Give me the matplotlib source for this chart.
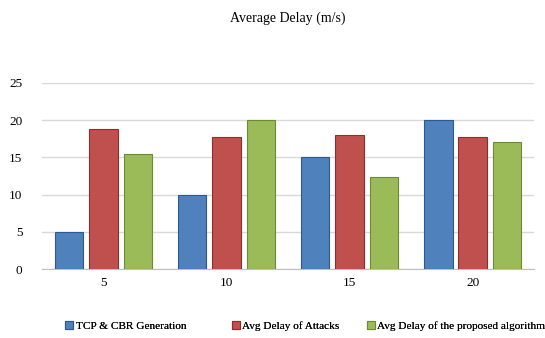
import matplotlib
matplotlib.use("Agg")
import matplotlib.pyplot as plt
import numpy as np

plt.rcParams["font.family"] = ["Liberation Serif", "DejaVu Serif"]

CATEGORIES = ["5", "10", "15", "20"]
TCP_CBR = [5.0, 10.0, 15.0, 20.0]
ATTACKS = [18.8, 17.7, 18.0, 17.7]
PROPOSED = [15.5, 20.0, 12.4, 17.0]
LABELS = ["TCP & CBR Generation", "Avg Delay of Attacks", "Avg Delay of the proposed algorithm"]
COLORS = ["#4f81bd", "#c0504d", "#9bbb59"]
EDGES = ["#2c5a8c", "#8c2f2c", "#6a8a34"]

fig = plt.figure(figsize=(5.45, 3.38), dpi=100)
ax = fig.add_axes([0.077, 0.204, 0.903, 0.551])

x = np.arange(len(CATEGORIES))
w = 0.23
step = 0.278
handles = []
for i, (vals, c, e, lab) in enumerate(zip([TCP_CBR, ATTACKS, PROPOSED], COLORS, EDGES, LABELS)):
    h = ax.bar(x + (i - 1) * step, vals, w, color=c, edgecolor=e, linewidth=0.8,
               label=lab, zorder=3)
    handles.append(h)

ax.set_xlim(-0.5, 3.5)
ax.set_ylim(0, 25)
ax.set_yticks([0, 5, 10, 15, 20, 25])
ax.set_xticks(x)
ax.set_xticklabels(CATEGORIES)
ax.yaxis.grid(True, color="#d9d9d9", linewidth=1.0, zorder=0)
for s in ["top", "right", "left"]:
    ax.spines[s].set_visible(False)
ax.spines["bottom"].set_color("#bfbfbf")
ax.tick_params(axis="both", length=0, labelsize=9.5, pad=6)
ax.tick_params(axis="y", pad=14)

fig.text(0.528, 0.945, "Average Delay (m/s)", ha="center", va="center", fontsize=10)

# one legend per entry so the uneven spacing of the original can be kept
for h, lab, xpos in zip(handles, LABELS, [0.12, 0.426, 0.674]):
    leg = fig.legend(handles=[h], labels=[lab], loc="center left",
                     bbox_to_anchor=(xpos, 0.035), frameon=False, fontsize=8.1,
                     handlelength=0.7, handleheight=0.7, handletextpad=0.2,
                     borderpad=0, borderaxespad=0)
    fig.add_artist(leg)

fig.savefig("out.png", dpi=100)
